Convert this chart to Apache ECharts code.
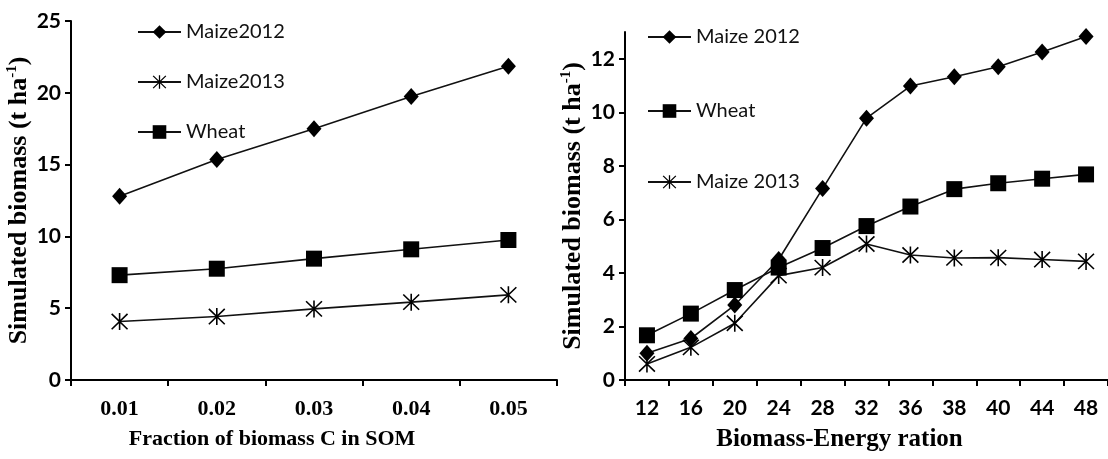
<!DOCTYPE html>
<html>
<head>
<meta charset="utf-8">
<script src="https://cdn.jsdelivr.net/npm/echarts@6/dist/echarts.min.js"></script>
<style>
  html, body { margin: 0; padding: 0; background: #fff; }
  #chart { width: 1108px; height: 459px; }
</style>
</head>
<body>
<div id="chart"></div>
<script>
// Panel A: fraction of biomass C going to SOM
const somFractions = ['0.01', '0.02', '0.03', '0.04', '0.05'];
const somMaize2012 = [12.8, 15.35, 17.5, 19.75, 21.85];
const somMaize2013 = [4.07, 4.42, 4.95, 5.42, 5.93];
const somWheat = [7.3, 7.75, 8.45, 9.1, 9.75];

// Panel B: biomass-energy ratio
const beRatios = ['12', '16', '20', '24', '28', '32', '36', '38', '40', '44', '48'];
const beMaize2012 = [1.0, 1.55, 2.8, 4.5, 7.15, 9.78, 10.98, 11.33, 11.7, 12.25, 12.83];
const beWheat = [1.67, 2.48, 3.36, 4.2, 4.93, 5.75, 6.48, 7.13, 7.35, 7.52, 7.68];
const beMaize2013 = [0.6, 1.22, 2.12, 3.9, 4.2, 5.08, 4.67, 4.56, 4.57, 4.5, 4.43];

const rightYTicks = [0, 2, 4, 6, 8, 10, 12];

const INK = '#000';
const LINE = '#111';
const SERIF = '"Liberation Serif", "Times New Roman", serif';
const SANS = 'Lato, "Noto Sans", sans-serif';

// six-armed asterisk marker built from three filled bars
const ASTERISK = 'path://M9.1 0H10.9V20H9.1Z' +
  'M0.364 1.636L1.636 0.364L19.636 18.364L18.364 19.636Z' +
  'M0.364 18.364L18.364 0.364L19.636 1.636L1.636 19.636Z';

const yTitle = {
  fontFamily: SERIF, fontWeight: 'bold', color: INK,
  rich: {
    t: { fontFamily: SERIF, fontWeight: 'bold', fontSize: 26, color: INK, lineHeight: 30 },
    s: { fontFamily: SERIF, fontWeight: 'bold', fontSize: 15, color: INK, verticalAlign: 'top', lineHeight: 30 }
  }
};
const yTitleText = '{t|Simulated biomass (t ha}{s|-1}{t|)}';

function axisBase() {
  return {
    axisLine: { show: true, lineStyle: { color: INK, width: 2 } },
    axisTick: { show: true, length: 6, lineStyle: { color: INK, width: 2 } },
    splitLine: { show: false }
  };
}

function legendItem(name, left, top) {
  return {
    data: [name], left: left, top: top, orient: 'vertical',
    itemWidth: 43, itemHeight: 17, padding: 0, selectedMode: false,
    textStyle: { fontFamily: SANS, fontSize: 20, color: '#111' }
  };
}

function lineSeries(name, data, symbol, size, axisIdx) {
  return {
    type: 'line', name: name, data: data,
    xAxisIndex: axisIdx, yAxisIndex: axisIdx,
    symbol: symbol, symbolSize: size, showAllSymbol: true,
    lineStyle: { color: LINE, width: 1.6 },
    itemStyle: { color: INK, borderWidth: 0 },
    emphasis: { disabled: true }
  };
}

const chart = echarts.init(document.getElementById('chart'), null, { renderer: 'canvas' });

chart.setOption({
  animation: false,
  backgroundColor: '#fff',
  grid: [
    { left: 71, top: 21, width: 486, height: 359 },
    { left: 625, top: 32, width: 483, height: 348 }
  ],
  legend: [
    legendItem('Maize2012', 137, 22),
    legendItem('Maize2013', 137, 72),
    legendItem('Wheat', 137, 122),
    legendItem('Maize 2012', 647, 27),
    legendItem('Wheat', 647, 101),
    legendItem('Maize 2013', 647, 172)
  ],
  xAxis: [
    Object.assign(axisBase(), {
      gridIndex: 0, type: 'category', data: somFractions,
      axisLabel: { fontFamily: SERIF, fontWeight: 'bold', fontSize: 22, color: INK, margin: 18 },
      name: 'Fraction of biomass C in SOM', nameLocation: 'middle', nameGap: 48,
      nameTextStyle: { fontFamily: SERIF, fontWeight: 'bold', fontSize: 22, color: INK, padding: [0, 84, 0, 0] }
    }),
    Object.assign(axisBase(), {
      gridIndex: 1, type: 'category', data: beRatios,
      axisLabel: { fontFamily: SANS, fontWeight: 'bold', fontSize: 21, color: INK, margin: 18 },
      name: 'Biomass-Energy ration', nameLocation: 'middle', nameGap: 47,
      nameTextStyle: { fontFamily: SERIF, fontWeight: 'bold', fontSize: 25, color: INK, padding: [0, 54, 0, 0] }
    })
  ],
  yAxis: [
    Object.assign(axisBase(), {
      gridIndex: 0, type: 'value', min: 0, max: 25, interval: 5,
      axisLabel: { fontFamily: SANS, fontWeight: 'bold', fontSize: 21, color: INK, margin: 10 },
      name: yTitleText, nameLocation: 'middle', nameRotate: 90, nameGap: 31,
      nameTextStyle: yTitle
    }),
    (function () {
      const ax = Object.assign(axisBase(), {
        gridIndex: 1, type: 'value', min: 0, max: 13, interval: 2,
        axisLabel: { fontFamily: SANS, fontWeight: 'bold', fontSize: 21, color: INK, margin: 10, customValues: rightYTicks },
        name: yTitleText, nameLocation: 'middle', nameRotate: 90, nameGap: 31,
        nameTextStyle: yTitle
      });
      ax.axisTick.customValues = rightYTicks;
      return ax;
    })()
  ],
  series: [
    lineSeries('Maize2012', somMaize2012, 'diamond', [15, 17], 0),
    lineSeries('Maize2013', somMaize2013, ASTERISK, 17, 0),
    lineSeries('Wheat', somWheat, 'rect', 16, 0),
    lineSeries('Maize 2012', beMaize2012, 'diamond', [15, 17], 1),
    lineSeries('Wheat', beWheat, 'rect', 16, 1),
    lineSeries('Maize 2013', beMaize2013, ASTERISK, 17, 1)
  ]
});
</script>
</body>
</html>
